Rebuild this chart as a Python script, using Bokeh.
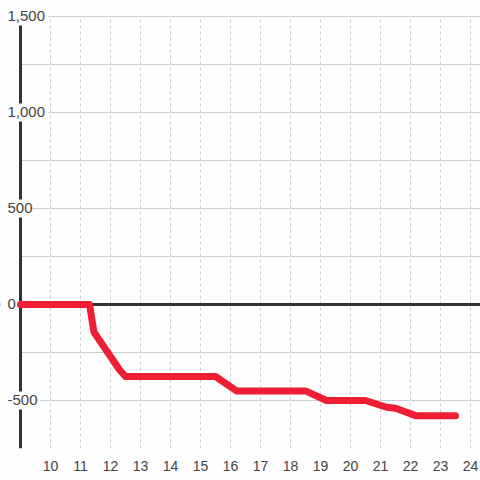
from bokeh.plotting import figure
from bokeh.models import ColumnDataSource, LabelSet, Span, FixedTicker, Range1d, BoxAnnotation
from bokeh.core.properties import value
from bokeh.embed import file_html
from bokeh.resources import INLINE

# data
xs = [9, 11.3, 11.45, 12.3, 12.5, 15.5, 16.2, 18.5, 19.2, 20.5, 21.2, 21.5, 22.2, 23.5]
ys = [0, 0, -145, -340, -375, -375, -450, -450, -500, -500, -535, -540, -580, -580]
x_ticks = list(range(10, 25))
y_grid = [-750, -500, -250, 0, 250, 500, 750, 1000, 1250, 1500]
y_label_vals = [1500, 1000, 500, 0, -500]
y_label_txt = ["1,500", "1,000", "500", "0", "-500"]
x_min, y_min, y_max = 9, -750, 1500

BG = "#fdfefd"
FONT = "Liberation Sans"
PX_PER_X = 30.0

p = figure(width=480, height=480, output_backend="svg", toolbar_location=None,
           x_range=Range1d(8.3333, 24.3333), y_range=Range1d(-750, 1583.33),
           min_border_left=0, min_border_right=0, min_border_top=0, min_border_bottom=32)
p.background_fill_color = BG
p.border_fill_color = BG
p.outline_line_color = None

p.yaxis.visible = False
p.xaxis.ticker = FixedTicker(ticks=x_ticks)
p.xaxis.axis_line_color = None
p.xaxis.major_tick_line_color = None
p.xaxis.minor_tick_line_color = None
p.xaxis.major_label_standoff = 6
p.xaxis.major_label_text_font = FONT
p.xaxis.major_label_text_font_size = "14px"
p.xaxis.major_label_text_color = "#444444"

p.xgrid.ticker = FixedTicker(ticks=x_ticks)
p.xgrid.grid_line_color = "#cccccc"
p.xgrid.grid_line_dash = "3 3"
p.xgrid.grid_line_width = 1
p.ygrid.ticker = FixedTicker(ticks=y_grid)
p.ygrid.grid_line_color = "#cccccc"
p.ygrid.grid_line_width = 1

zero = Span(location=0, dimension="width", line_color="#333333", line_width=3, level="underlay")
p.add_layout(zero)
# blank the areas outside the plotting region
p.add_layout(BoxAnnotation(right=x_min, fill_color=BG, fill_alpha=1, line_color=None, level="underlay"))
p.add_layout(BoxAnnotation(bottom=y_max + 3, fill_color=BG, fill_alpha=1, line_color=None, level="underlay"))

# y axis line
p.segment(x0=[x_min], y0=[y_min], x1=[x_min], y1=[y_max], line_color="#333333", line_width=3)

# label backgrounds (break the axis line behind the labels)
widths = [len(t) * 7.6 + 4 for t in y_label_txt]
centers = [x_min + (5 + w / 2 - 20) / PX_PER_X for w in widths]
p.rect(x=centers, y=y_label_vals, width=widths, height=[18] * len(widths),
       width_units="screen", height_units="screen", fill_color=BG, line_color=None)

p.line(xs, ys, line_color="#ee1e35", line_width=7, line_join="round", line_cap="round")

lab_src = ColumnDataSource(dict(x=[x_min] * len(y_label_vals), y=y_label_vals, t=y_label_txt))
labels = LabelSet(x="x", y="y", text="t", source=lab_src, x_offset=-13,
                  text_align="left", text_baseline="middle", text_font=value(FONT),
                  text_font_size=value("15px"), text_color="#444444")
p.add_layout(labels)

open("out.html", "w").write(file_html(p, INLINE))
